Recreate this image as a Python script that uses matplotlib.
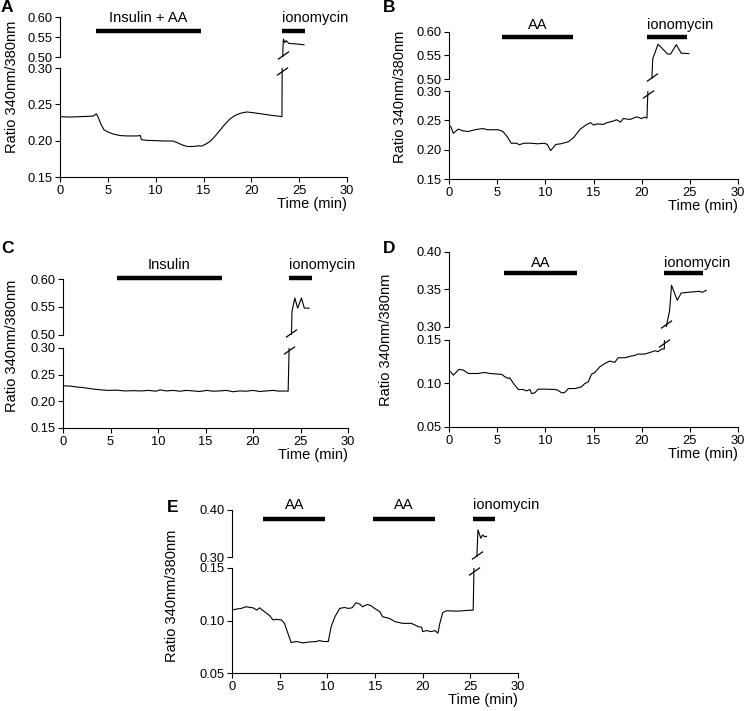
import matplotlib
matplotlib.use('Agg')
import matplotlib.pyplot as plt
import numpy as np

plt.rcParams['font.family'] = ['Liberation Sans', 'DejaVu Sans']
plt.rcParams['font.size'] = 9.5

W, H = 745, 711

# ---- data (time in min, 340/380 ratio) ----
a_time = [0, 1, 2, 3, 3.5, 3.8, 4.0, 4.3, 4.6, 5.0, 5.6, 6.3, 7.0, 8.0, 8.4, 8.5, 9.0,
          10.0, 11.0, 11.8, 12.3, 12.8, 13.3, 14.0, 14.5, 14.8, 15.2, 15.7, 16.2, 16.7,
          17.2, 17.7, 18.2, 18.8, 19.5, 20.2, 21.0, 22.0, 23.0, 23.2,
          23.3, 23.35, 23.5, 23.65, 23.9, 24.5, 25.0, 25.5]
a_ratio = [0.233, 0.2325, 0.233, 0.2335, 0.234, 0.237, 0.232, 0.222, 0.215, 0.212, 0.209,
           0.207, 0.2065, 0.2065, 0.207, 0.2015, 0.2005, 0.200, 0.1995, 0.1995, 0.197,
           0.194, 0.192, 0.192, 0.193, 0.1925, 0.195, 0.199, 0.206, 0.214, 0.222, 0.229,
           0.234, 0.2375, 0.2395, 0.2385, 0.237, 0.235, 0.2335, 0.233,
           0.52, 0.545, 0.536, 0.541, 0.534, 0.533, 0.532, 0.5305]

b_time = [0.17, 0.45, 0.96, 1.47, 2.0, 2.7, 3.5, 4.0, 5.1, 5.6, 6.1, 6.45, 7.0, 7.3, 7.8,
          8.5, 9.2, 9.9, 10.2, 10.55, 11.1, 11.6, 12.4, 12.96, 13.6, 14.3, 14.7, 15.0,
          15.4, 16.0, 16.4, 17.1, 17.4, 17.8, 18.1, 18.8, 19.5, 20.0, 20.3, 20.55,
          21.15, 21.7, 22.7, 23.0, 23.6, 24.1, 24.9]
b_ratio = [0.240, 0.228, 0.235, 0.232, 0.231, 0.234, 0.236, 0.234, 0.234, 0.231, 0.221,
           0.211, 0.211, 0.2085, 0.211, 0.211, 0.210, 0.211, 0.209, 0.1985, 0.209, 0.210,
           0.2136, 0.221, 0.2348, 0.243, 0.246, 0.242, 0.244, 0.243, 0.246, 0.249, 0.251,
           0.247, 0.253, 0.2515, 0.256, 0.253, 0.2555, 0.2538,
           0.543, 0.574, 0.553, 0.553, 0.573, 0.555, 0.554]

c_time = [0.17, 0.8, 1.4, 2.0, 2.6, 3.2, 4.0, 4.8, 5.6, 6.5, 7.4, 8.2, 9.0, 9.8, 10.2,
          10.9, 11.6, 12.3, 13.0, 13.7, 14.4, 15.1, 15.8, 16.5, 17.2, 17.9, 18.6, 19.3,
          20.0, 20.7, 21.4, 22.1, 22.8, 23.3, 23.7,
          24.1, 24.4, 24.7, 25.1, 25.4, 25.9]
c_ratio = [0.229, 0.2285, 0.227, 0.226, 0.2245, 0.223, 0.2215, 0.2205, 0.221, 0.2195,
           0.220, 0.2195, 0.2205, 0.219, 0.2215, 0.2195, 0.2205, 0.219, 0.2205, 0.2195,
           0.2185, 0.2205, 0.219, 0.2195, 0.2205, 0.218, 0.2195, 0.219, 0.2205, 0.2185,
           0.2195, 0.2205, 0.219, 0.2195, 0.219,
           0.5417, 0.566, 0.548, 0.566, 0.548, 0.548]

d_time = [0.17, 0.45, 1.04, 1.5, 2.0, 3.0, 3.7, 4.25, 5.5, 5.8, 6.15, 6.3, 6.7, 7.2, 7.7,
          8.05, 8.4, 8.57, 8.9, 9.26, 9.95, 11.0, 11.3, 11.7, 12.0, 12.4, 13.1, 13.75,
          14.1, 14.45, 14.8, 15.1, 15.66, 16.2, 16.7, 17.2, 17.56, 18.25, 18.9, 19.3,
          19.6, 20.3, 20.8, 21.4, 21.7, 22.05, 22.35,
          22.55, 22.9, 23.1, 23.7, 24.1, 25.2, 26.0, 26.3, 26.7]
d_ratio = [0.1135, 0.1096, 0.1162, 0.1154, 0.1115, 0.1115, 0.1127, 0.1115, 0.1104, 0.1077,
           0.1058, 0.1066, 0.100, 0.0931, 0.0931, 0.0915, 0.0931, 0.0885, 0.0892, 0.0935,
           0.0935, 0.0931, 0.0923, 0.0892, 0.0896, 0.0942, 0.0942, 0.0962, 0.100, 0.1019,
           0.1108, 0.1123, 0.1192, 0.1231, 0.1258, 0.1242, 0.1296, 0.1296, 0.1315,
           0.1323, 0.1338, 0.1338, 0.1354, 0.1377, 0.1365, 0.1396, 0.1396,
           0.30, 0.3222, 0.3556, 0.3356, 0.3453, 0.3467, 0.3476, 0.3462, 0.3489]

e_time = [0, 0.45, 0.98, 1.43, 1.85, 2.2, 2.6, 2.9, 3.4, 3.95, 4.3, 4.65, 5.2, 5.5, 5.9,
          6.2, 6.75, 7.45, 8.15, 8.85, 9.2, 9.55, 10.1, 10.4, 10.8, 11.3, 11.8, 12.2,
          12.6, 13.0, 13.4, 13.7, 14.2, 14.6, 14.96, 15.5, 15.8, 16.5, 17.1, 17.9, 18.8,
          19.2, 19.5, 19.9, 20.0, 20.4, 20.9, 21.3, 21.6, 21.8, 22.1, 22.5, 23.2, 23.9,
          24.6, 25.3,
          25.8, 26.1, 26.3, 26.5, 26.7]
e_ratio = [0.1099, 0.1109, 0.1115, 0.1131, 0.1125, 0.1121, 0.1099, 0.1121, 0.1084, 0.1046,
           0.1005, 0.1011, 0.1005, 0.0973, 0.0869, 0.079, 0.080, 0.0787, 0.0796, 0.080,
           0.0809, 0.080, 0.080, 0.0942, 0.1036, 0.1115, 0.1124, 0.1115, 0.1121, 0.1169,
           0.1156, 0.1131, 0.1153, 0.114, 0.1115, 0.1084, 0.1036, 0.102, 0.0989, 0.0973,
           0.0973, 0.0957, 0.0942, 0.0936, 0.0894, 0.0904, 0.0894, 0.0904, 0.0879, 0.0973,
           0.1074, 0.1093, 0.109, 0.109, 0.1096, 0.1099,
           0.3577, 0.340, 0.347, 0.343, 0.344]

# treatments: label, start, end
a_treat = [("Insulin + AA", 3.76, 14.7), ("ionomycin", 23.2, 25.6)]
b_treat = [("AA", 5.55, 12.9), ("ionomycin", 20.6, 24.7)]
c_treat = [("Insulin", 5.7, 16.7), ("ionomycin", 23.8, 26.2)]
d_treat = [("AA", 5.7, 13.3), ("ionomycin", 22.3, 26.4)]
e_treat = [("AA", 3.3, 9.8), ("AA", 14.8, 21.3), ("ionomycin", 25.3, 27.6)]

x_ticks = [0, 5, 10, 15, 20, 25, 30]

fig = plt.figure(figsize=(W / 100, H / 100), dpi=100)


def pbox(x0, x1, ytop, ybot):
    return [x0 / W, 1 - ybot / H, (x1 - x0) / W, (ybot - ytop) / H]


def slash(ax, x, y):
    ax.plot([x], [y], marker=[(-1, -0.7), (1, 0.7)], markersize=8, mew=0.9,
            color='black', clip_on=False, zorder=5)


def panel(letter, t, r, treat, xs, up_y, lo_y, up_lim, lo_lim, up_ticks, lo_ticks,
          bar_y, txt_y, ylab_xy, letter_xy):
    x0, x1 = xs
    axu = fig.add_axes(pbox(x0, x1, up_y[0], up_y[1]))
    axl = fig.add_axes(pbox(x0, x1, lo_y[0], lo_y[1]))
    t = np.array(t)
    r = np.array(r)
    for ax in (axu, axl):
        ax.plot(t, r, color='black', lw=0.8)
        ax.set_xlim(0, 30)
        ax.spines['top'].set_visible(False)
        ax.spines['right'].set_visible(False)
        ax.spines['left'].set_linewidth(0.8)
        ax.spines['bottom'].set_linewidth(0.8)
        ax.tick_params(direction='out', length=3.5, width=0.8, pad=2, labelsize=9.3)
        ax.patch.set_alpha(0)
    axu.set_ylim(*up_lim)
    axl.set_ylim(*lo_lim)
    axu.set_yticks(up_ticks)
    axl.set_yticks(lo_ticks)
    axu.set_yticklabels(['%.2f' % v for v in up_ticks])
    axl.set_yticklabels(['%.2f' % v for v in lo_ticks])
    axu.spines['bottom'].set_visible(False)
    axu.tick_params(axis='x', bottom=False, labelbottom=False)
    axl.set_xticks(x_ticks)

    # break marks where the trace leaves the lower axis and enters the upper one
    i = np.argmax(r > lo_lim[1])
    xa = np.interp(lo_lim[1], [r[i - 1], r[i]], [t[i - 1], t[i]])
    xb = np.interp(up_lim[0], [r[i - 1], r[i]], [t[i - 1], t[i]])
    slash(axl, xa, lo_lim[1] - (lo_lim[1] - lo_lim[0]) * 0.03)
    slash(axu, xb, up_lim[0] + (up_lim[1] - up_lim[0]) * 0.04)

    for name, s, e in treat:
        axu.plot([s, e], [bar_y, bar_y], color='black', lw=3.2, solid_capstyle='butt',
                 clip_on=False)
        if name == "ionomycin":
            axu.text(s, txt_y, name, ha='left', va='center', fontsize=10.5, clip_on=False)
        else:
            axu.text((s + e) / 2, txt_y, name, ha='center', va='center', fontsize=10.5,
                     clip_on=False)

    fig.text(x1 / W, 1 - (lo_y[1] + 27) / H, "Time (min)", ha='right', va='center',
             fontsize=10.5)
    fig.text(ylab_xy[0] / W, 1 - ylab_xy[1] / H, "Ratio 340nm/380nm", rotation=90,
             ha='center', va='center', fontsize=10.5)
    fig.text(letter_xy[0] / W, 1 - letter_xy[1] / H, letter, ha='left', va='center',
             fontsize=12.5, fontweight='bold')


panel("A", a_time, a_ratio, a_treat, (60, 347), (17, 57), (68, 177), (0.5, 0.6), (0.15, 0.30),
      [0.50, 0.55, 0.60], [0.15, 0.20, 0.25, 0.30], 0.565, 0.5975, (12, 87), (1, 8))
panel("B", b_time, b_ratio, b_treat, (449, 738), (32, 79), (91, 179), (0.5, 0.6), (0.15, 0.30),
      [0.50, 0.55, 0.60], [0.15, 0.20, 0.25, 0.30], 0.59, 0.614, (400, 97), (383, 8))
panel("C", c_time, c_ratio, c_treat, (63, 348), (279, 335), (348, 428), (0.5, 0.6), (0.15, 0.30),
      [0.50, 0.55, 0.60], [0.15, 0.20, 0.25, 0.30], 0.602, 0.625, (12, 346), (1, 249))
panel("D", d_time, d_ratio, d_treat, (449, 738), (252, 327), (340, 427), (0.3, 0.4), (0.05, 0.15),
      [0.30, 0.35, 0.40], [0.05, 0.10, 0.15], 0.372, 0.385, (386, 340), (383, 249))
panel("E", e_time, e_ratio, e_treat, (232, 518), (510, 557), (568, 673), (0.3, 0.4), (0.05, 0.15),
      [0.30, 0.40], [0.05, 0.10, 0.15], 0.381, 0.411, (172, 596), (167, 507))

fig.savefig("out.png", dpi=100)
